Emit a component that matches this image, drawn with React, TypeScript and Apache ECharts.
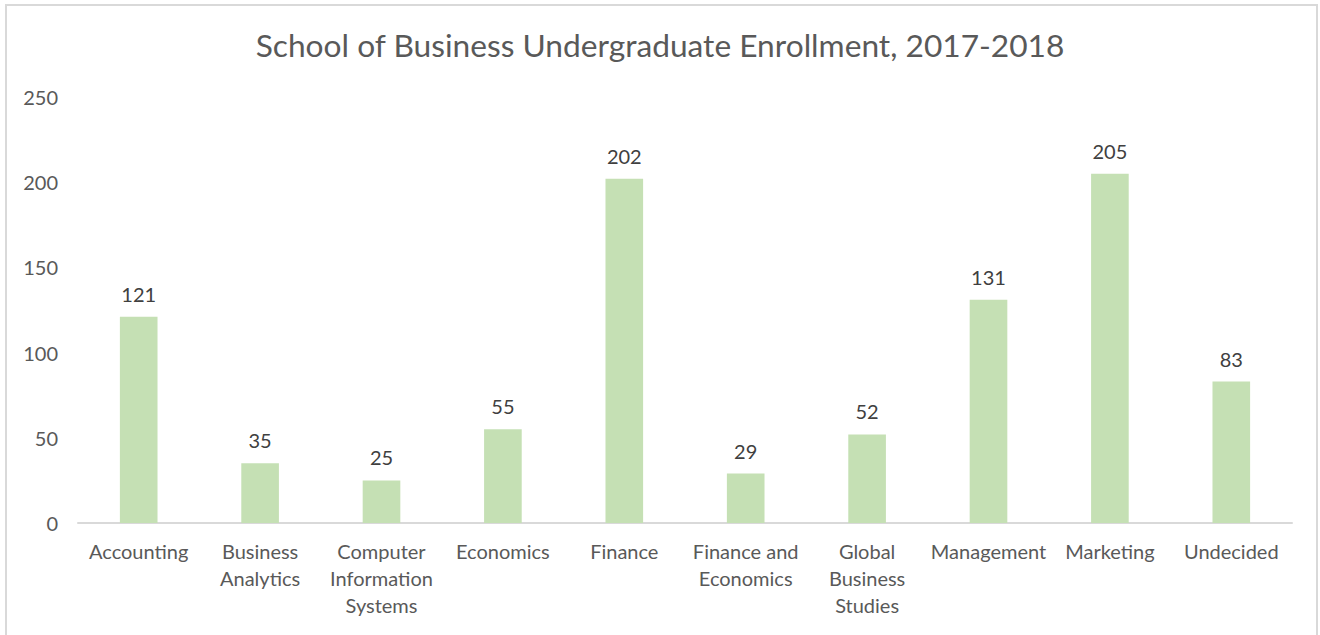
import React, { useEffect, useRef } from "react";
import * as echarts from "echarts";

const titleText = "School of Business Undergraduate Enrollment, 2017-2018";
const categories = [
  "Accounting",
  "Business\nAnalytics",
  "Computer\nInformation\nSystems",
  "Economics",
  "Finance",
  "Finance and\nEconomics",
  "Global\nBusiness\nStudies",
  "Management",
  "Marketing",
  "Undecided",
];
const enrollment = [121, 35, 25, 55, 202, 29, 52, 131, 205, 83];
const yMin = 0;
const yMax = 250;
const yInterval = 50;

const FONT = "Lato, 'Open Sans', sans-serif";

export default function App() {
  const ref = useRef<HTMLDivElement>(null);
  useEffect(() => {
    if (!ref.current) return;
    const chart = echarts.init(ref.current, null, { renderer: "svg" });
    chart.setOption({
      animation: false,
      backgroundColor: "#ffffff",
      title: {
        text: titleText,
        left: "center",
        top: 24,
        textStyle: { color: "#595959", fontSize: 31.7, fontWeight: "normal", fontFamily: FONT },
      },
      graphic: [
        {
          type: "rect",
          shape: { x: 6, y: 5, width: 1311, height: 640 },
          style: { fill: "none", stroke: "#D9D9D9", lineWidth: 2 },
          silent: true,
        },
      ],
      grid: { left: 78, right: 28, top: 97, bottom: 112, containLabel: false },
      xAxis: {
        type: "category",
        data: categories,
        axisLine: { lineStyle: { color: "#D9D9D9", width: 2 } },
        axisTick: { show: false },
        axisLabel: {
          color: "#595959",
          fontSize: 20,
          fontFamily: FONT,
          lineHeight: 27,
          interval: 0,
          margin: 14,
        },
      },
      yAxis: {
        type: "value",
        min: yMin,
        max: yMax,
        interval: yInterval,
        splitLine: { show: false },
        axisLine: { show: false },
        axisTick: { show: false },
        axisLabel: { color: "#595959", fontSize: 20, fontFamily: FONT, margin: 20 },
      },
      series: [
        {
          type: "bar",
          data: enrollment,
          barWidth: "31%",
          itemStyle: { color: "#C5E0B4" },
          label: {
            show: true,
            position: "top",
            distance: 13,
            color: "#404040",
            fontSize: 20,
            fontFamily: FONT,
          },
        },
      ],
    });
    return () => chart.dispose();
  }, []);
  return (
    <div
      ref={ref}
      style={{ position: "absolute", left: 0, top: 0, width: 1320, height: 635 }}
    />
  );
}
